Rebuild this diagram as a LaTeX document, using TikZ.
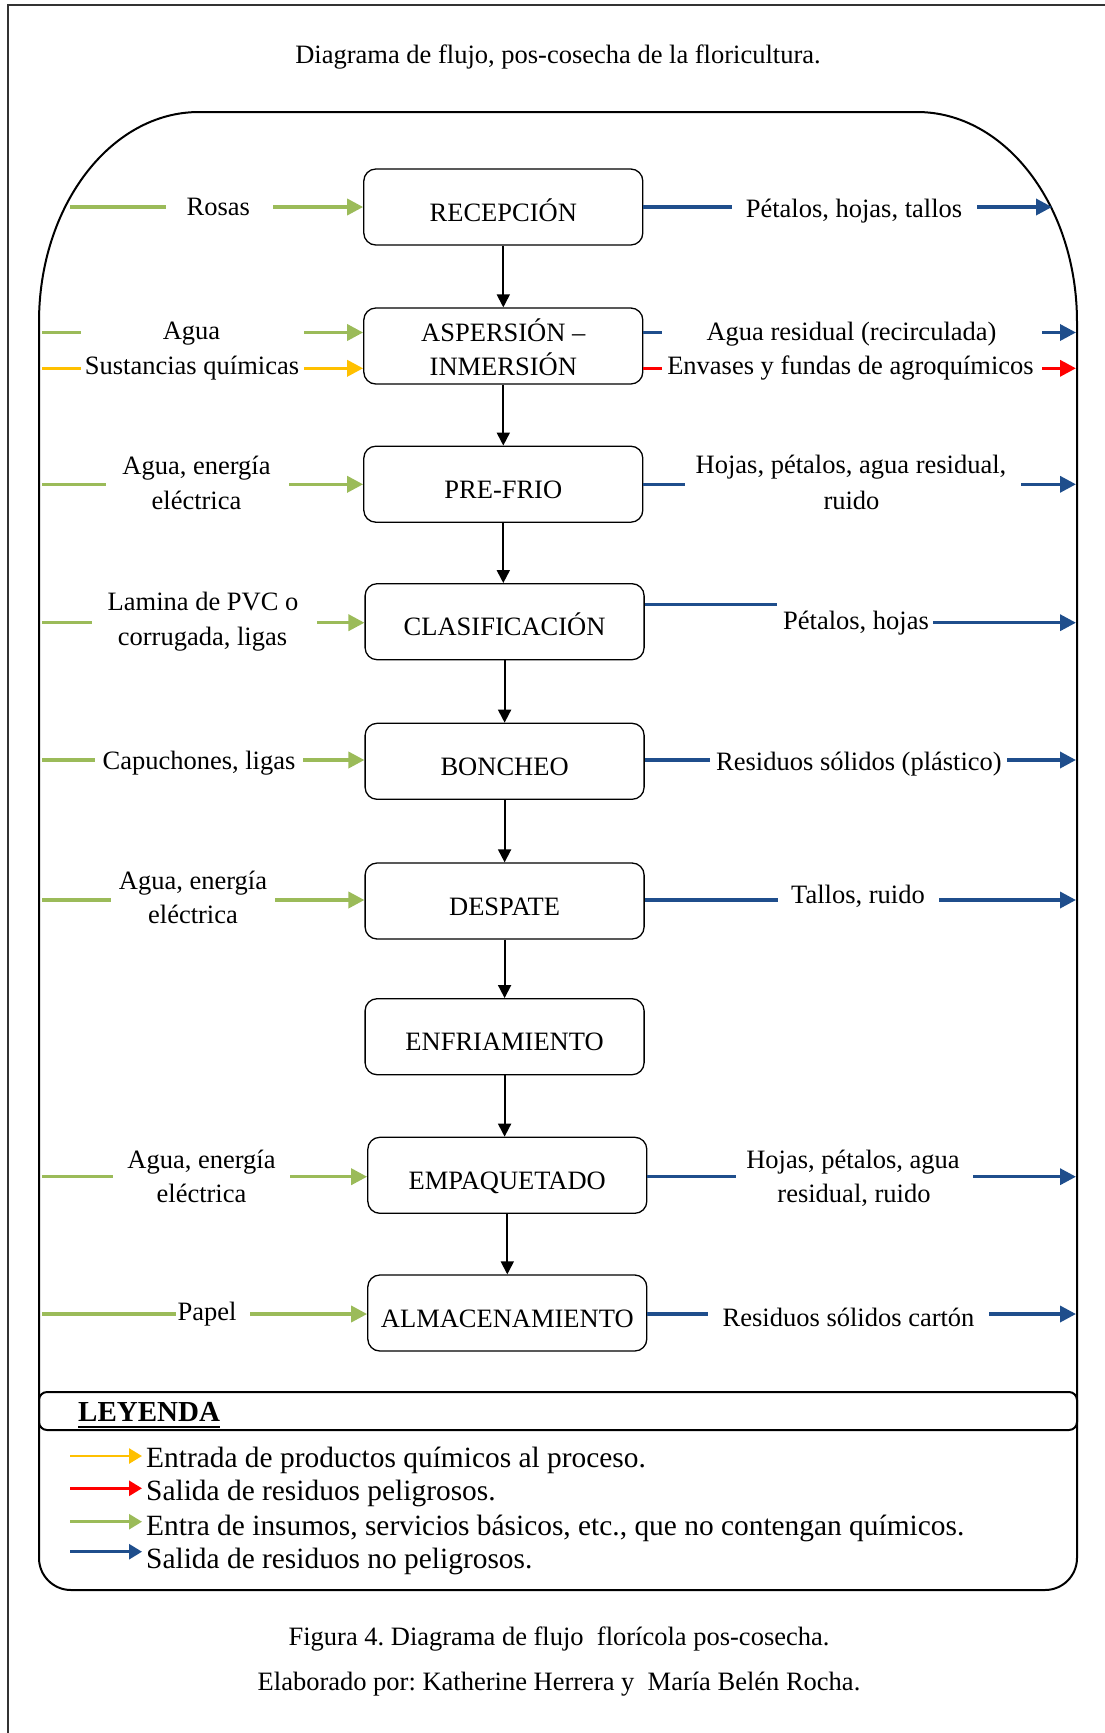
\documentclass[tikz,border=0pt]{standalone}
\usepackage{fontspec}
\setmainfont{Liberation Serif}
\usetikzlibrary{arrows.meta}
\frenchspacing

\definecolor{flowgreen}{HTML}{9BBB59}
\definecolor{flowblue}{HTML}{1F4E8C}
\definecolor{flowyellow}{HTML}{FFC000}
\definecolor{flowred}{HTML}{FF0000}

% input on the left: line, gap for the label, arrow into the process box
% #1 name, #2 colour prefix, #3 y, #4 line start, #5 line end, #6 arrow start, #7 box
\newcommand{\leftflow}[7]{%
  \coordinate (#1s) at (#4,#3);
  \coordinate (#1e) at (#5,#3);
  \coordinate (#1a) at (#6,#3);
  \draw[#2line] (#1s) -- (#1e);
  \draw[#2line,flowtip] (#1a) -- (#1a -| #7.west);}
% output on the right: line out of the box, gap for the label, arrow to the edge
% #1 name, #2 colour prefix, #3 y, #4 line end, #5 arrow start, #6 arrow end, #7 box
\newcommand{\rightflow}[7]{%
  \coordinate (#1e) at (#4,#3);
  \coordinate (#1a) at (#5,#3);
  \coordinate (#1z) at (#6,#3);
  \draw[#2line] (#1e -| #7.east) -- (#1e);
  \draw[#2line,flowtip] (#1a) -- (#1z);}

\begin{document}
\begin{tikzpicture}[x=1pt,y=-1pt,
  txt/.style={font=\fontsize{26.5}{32}\selectfont},
  lbl/.style={txt, inner sep=0pt, anchor=base},
  lgd/.style={font=\fontsize{29.4}{34}\selectfont, inner sep=0pt, anchor=base west},
  box/.style={txt, draw, line width=1.3pt, rounded corners=12pt,
    minimum width=279pt, minimum height=76pt, inner sep=0pt,
    text height=34pt, text depth=6pt},
  gline/.style={line width=3.5pt, draw=flowgreen},
  bline/.style={line width=3.5pt, draw=flowblue},
  yline/.style={line width=3.5pt, draw=flowyellow},
  rline/.style={line width=3.5pt, draw=flowred},
  flowtip/.style={-{Triangle[length=16pt,width=16pt]}},
  down/.style={line width=1.8pt, -{Triangle[length=13pt,width=13pt]}},
  keyarrow/.style={line width=2.7pt, -{Triangle[length=13pt,width=15pt]}},
  frame/.style={line width=2.5pt, draw=black!80},
  container/.style={line width=2pt}]

\useasboundingbox (0,0) rectangle (1104,1733);

% page frame
\draw[frame] (8,1750) -- (8,5) -- (1120,5);

% heading
\node[lbl] (title) at (558,63) {Diagrama de flujo, pos-cosecha de la floricultura.};

% outer rounded enclosure
\draw[container] (39,1558) -- (39,322)
  .. controls (39,206) and (110.6,112) .. (199,112) -- (917,112)
  .. controls (1005.4,112) and (1077,206) .. (1077,322) -- (1077,1558)
  .. controls (1077,1575.7) and (1062.7,1590) .. (1045,1590) -- (71,1590)
  .. controls (53.3,1590) and (39,1575.7) .. (39,1558) -- cycle;

% process steps
\node[box] (B1) at (503.3,207) {RECEPCIÓN};
\node[box] (B2) at (503.3,346) {};
\node[lbl] (B2a) at (503.3,341.7) {ASPERSIÓN –};
\node[lbl] (B2b) at (503.3,375) {INMERSIÓN};
\node[box] (B3) at (503.3,484.2) {PRE-FRIO};
\node[box] (B4) at (504.6,621.7) {CLASIFICACIÓN};
\node[box] (B5) at (504.6,761.3) {BONCHEO};
\node[box] (B6) at (504.6,901) {DESPATE};
\node[box] (B7) at (504.6,1036.7) {ENFRIAMIENTO};
\node[box] (B8) at (507.3,1175.3) {EMPAQUETADO};
\node[box] (B9) at (507.3,1313) {ALMACENAMIENTO};

% main sequence
\foreach \a/\b in {B1/B2,B2/B3,B3/B4,B4/B5,B5/B6,B6/B7,B7/B8,B8/B9}
  \draw[down] (\a.south) -- (\a.south |- \b.north);

% inputs
\leftflow{in1}{g}{207}{70}{165.5}{273}{B1}
\node[lbl] (in1t) at (218.3,215) {Rosas};
\leftflow{in2}{g}{332.5}{42}{81}{304}{B2}
\node[lbl] (in2t) at (191.5,339.5) {Agua};
\leftflow{in2q}{y}{368.3}{42}{81}{304}{B2}
\node[lbl] (in2qt) at (192,374) {Sustancias químicas};
\leftflow{in3}{g}{484.3}{42}{106}{289}{B3}
\node[lbl] (in3t) at (196.5,474.3) {Agua, energía};
\node[lbl] (in3u) at (196.5,509.3) {eléctrica};
\leftflow{in4}{g}{622.7}{42}{91.5}{317}{B4}
\node[lbl] (in4t) at (203,610) {Lamina de PVC o};
\node[lbl] (in4u) at (202.5,645) {corrugada, ligas};
\leftflow{in5}{g}{760}{42}{95}{303}{B5}
\node[lbl] (in5t) at (199,769.3) {Capuchones, ligas};
\leftflow{in6}{g}{900}{42}{111}{275}{B6}
\node[lbl] (in6t) at (193,889.3) {Agua, energía};
\node[lbl] (in6u) at (193,923.3) {eléctrica};
\leftflow{in8}{g}{1176.7}{42}{113}{290}{B8}
\node[lbl] (in8t) at (201.5,1168.3) {Agua, energía};
\node[lbl] (in8u) at (201.5,1202.7) {eléctrica};
\leftflow{in9}{g}{1314}{42}{176}{250}{B9}
\node[lbl] (in9t) at (207,1320) {Papel};

% outputs
\rightflow{out1}{b}{207}{732}{977}{1052}{B1}
\node[lbl] (out1t) at (854,217) {Pétalos, hojas, tallos};
\rightflow{out2}{b}{332.5}{662}{1042}{1076}{B2}
\node[lbl] (out2t) at (851.5,340.5) {Agua residual (recirculada)};
\rightflow{out2r}{r}{368.3}{662}{1042}{1076}{B2}
\node[lbl] (out2rt) at (850.5,374) {Envases y fundas de agroquímicos};
\rightflow{out3}{b}{484.3}{684.5}{1021}{1076}{B3}
\node[lbl] (out3t) at (851,473) {Hojas, pétalos, agua residual,};
\node[lbl] (out3u) at (851.5,509) {ruido};
\coordinate (out4e) at (777,604.3);
\coordinate (out4a) at (933,622.7);
\coordinate (out4z) at (1076,622.7);
\draw[bline] (out4e -| B4.east) -- (out4e);
\draw[bline,flowtip] (out4a) -- (out4z);
\node[lbl] (out4t) at (856,629.3) {Pétalos, hojas};
\rightflow{out5}{b}{760}{710}{1007}{1076}{B5}
\node[lbl] (out5t) at (859,770.7) {Residuos sólidos (plástico)};
\rightflow{out6}{b}{900}{778}{939}{1076}{B6}
\node[lbl] (out6t) at (858,903.3) {Tallos, ruido};
\rightflow{out8}{b}{1176.7}{736}{973}{1076}{B8}
\node[lbl] (out8t) at (853,1168.3) {Hojas, pétalos, agua};
\node[lbl] (out8u) at (854,1202.7) {residual, ruido};
\rightflow{out9}{b}{1314}{708}{989}{1076}{B9}
\node[lbl] (out9t) at (848.6,1326.7) {Residuos sólidos cartón};

% legend
\draw[container, rounded corners=8pt] (39,1392) rectangle (1077,1430);
\node[lgd, font=\fontsize{29}{34}\selectfont\bfseries] (leyenda) at (78,1421.7) {LEYENDA};
\draw[line width=2pt] ([yshift=-5pt]leyenda.base west) -- ([yshift=-5pt]leyenda.base east);

\coordinate (k1s) at (70,1456);   \coordinate (k1e) at (142,1456);
\coordinate (k2s) at (70,1488.3); \coordinate (k2e) at (142,1488.3);
\coordinate (k3s) at (70,1521.7); \coordinate (k3e) at (142,1521.7);
\coordinate (k4s) at (70,1551.7); \coordinate (k4e) at (142,1551.7);
\draw[keyarrow, draw=flowyellow] (k1s) -- (k1e);
\draw[keyarrow, draw=flowred] (k2s) -- (k2e);
\draw[keyarrow, draw=flowgreen] (k3s) -- (k3e);
\draw[keyarrow, draw=flowblue] (k4s) -- (k4e);
\node[lgd] (k1) at (146,1467.3) {Entrada de productos químicos al proceso.};
\node[lgd] (k2) at (146,1500) {Salida de residuos peligrosos.};
\node[lgd] (k3) at (146,1535) {Entra de insumos, servicios básicos, etc., que no contengan químicos.};
\node[lgd] (k4) at (146,1568.3) {Salida de residuos no peligrosos.};

% caption
\node[lbl] (cap1) at (559,1645) {Figura 4. Diagrama de flujo\ \ florícola pos-cosecha.};
\node[lbl] (cap2) at (559,1690) {Elaborado por: Katherine Herrera y\ \ María Belén Rocha.};
\end{tikzpicture}
\end{document}
